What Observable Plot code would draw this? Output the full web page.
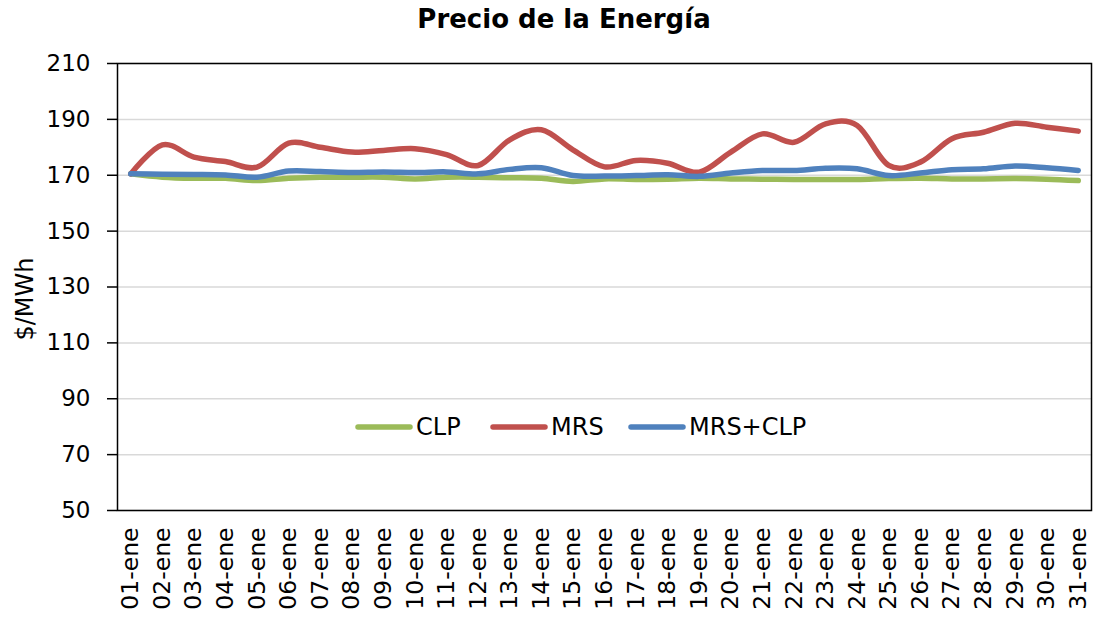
<!DOCTYPE html>
<html>
<head>
<meta charset="utf-8">
<script src="https://cdn.jsdelivr.net/npm/d3@7"></script>
<script src="https://cdn.jsdelivr.net/npm/@observablehq/plot@0.6"></script>
<style>
  body { margin: 0; background: #fff; }
  #wrap { position: relative; width: 1093px; height: 617px; font-family: 'Century Gothic', 'DejaVu Sans', sans-serif; color: #000; }
  #title { position: absolute; top: 4px; left: 564px; transform: translateX(-50%); font-weight: bold; font-size: 26px; line-height: 30px; white-space: nowrap; }
  #ylabel { position: absolute; left: 25px; top: 299px; transform: translate(-50%, -50%) rotate(-90deg); font-size: 24px; line-height: 28px; white-space: nowrap; }
  #legend .item { position: absolute; top: 413px; display: flex; align-items: center; font-size: 24px; line-height: 28px; white-space: nowrap; }
  #legend svg { margin-right: 2px; }
  #chart { position: absolute; top: 0; left: 0; }
</style>
</head>
<body>
<div id="wrap">
  <div id="chart"></div>
  <div id="title">Precio de la Energía</div>
  <div id="ylabel">$/MWh</div>
  <div id="legend"></div>
</div>
<script>
const dias = ["01-ene","02-ene","03-ene","04-ene","05-ene","06-ene","07-ene","08-ene","09-ene","10-ene",
  "11-ene","12-ene","13-ene","14-ene","15-ene","16-ene","17-ene","18-ene","19-ene","20-ene",
  "21-ene","22-ene","23-ene","24-ene","25-ene","26-ene","27-ene","28-ene","29-ene","30-ene","31-ene"];
const clp = [170.5,169.3,168.9,168.9,168.1,168.9,169.3,169.3,169.3,168.7,169.3,169.3,169.1,168.9,167.8,168.7,
  168.5,168.6,168.9,168.7,168.6,168.5,168.5,168.5,168.8,168.9,168.7,168.7,168.8,168.6,168.1];
const mrs = [170.5,180.9,176.5,174.9,172.9,181.5,180.0,178.3,178.9,179.5,177.4,173.5,182.7,186.3,179.1,173.0,
  175.3,174.3,171.1,178.3,184.8,181.8,188.4,187.8,173.5,174.7,183.1,185.4,188.6,187.2,185.8];
const mrsClp = [170.5,170.4,170.3,170.1,169.3,171.5,171.3,171.0,171.2,171.0,171.2,170.5,172.1,172.7,169.9,169.7,
  169.9,170.2,169.6,170.8,171.7,171.7,172.5,172.3,169.9,170.8,172.0,172.3,173.3,172.7,171.7];
const yTicks = [50,70,90,110,130,150,170,190,210];
const seriesNames = ["CLP","MRS","MRS+CLP"];
const seriesColors = ["#9BBB59","#C0504D","#4F81BD"];
const seriesValues = [clp, mrs, mrsClp];

const rows = [];
seriesNames.forEach((s, k) => seriesValues[k].forEach((v, i) => rows.push({dia: dias[i], serie: s, valor: v})));

const font = "'Century Gothic', 'DejaVu Sans', sans-serif";
const plot = Plot.plot({
  width: 1093,
  height: 617,
  marginLeft: 117,
  marginRight: 2,
  marginTop: 63,
  marginBottom: 107,
  style: {fontFamily: font, fontSize: "23px", color: "#000", background: "transparent"},
  x: {type: "point", domain: dias, padding: 0.42, round: false},
  y: {domain: [50, 210]},
  color: {domain: seriesNames, range: seriesColors},
  marks: [
    Plot.gridY(yTicks, {stroke: "#D9D9D9", strokeOpacity: 1, strokeWidth: 1.5}),
    Plot.axisY(yTicks, {tickSize: 10, tickPadding: 17, fontSize: 23, stroke: "#000", strokeWidth: 1.5, label: null}),
    Plot.axisX({tickSize: 0, tickPadding: 17, tickRotate: -90, fontSize: 23.5, label: null}),
    Plot.frame({stroke: "#000", strokeWidth: 1.5}),
    Plot.line(rows, {x: "dia", y: "valor", z: "serie", stroke: "serie", strokeWidth: 5.5, curve: "cardinal"})
  ]
});
document.getElementById("chart").appendChild(plot);

const legend = document.getElementById("legend");
const legendLeft = [354, 489, 627];
seriesNames.forEach((s, k) => {
  const item = document.createElement("div");
  item.className = "item";
  item.style.left = legendLeft[k] + "px";
  item.innerHTML = `<svg width="60" height="8"><line x1="4" y1="4" x2="56" y2="4" stroke="${seriesColors[k]}" stroke-width="5.5" stroke-linecap="round"/></svg><span>${s}</span>`;
  legend.appendChild(item);
});
</script>
</body>
</html>
